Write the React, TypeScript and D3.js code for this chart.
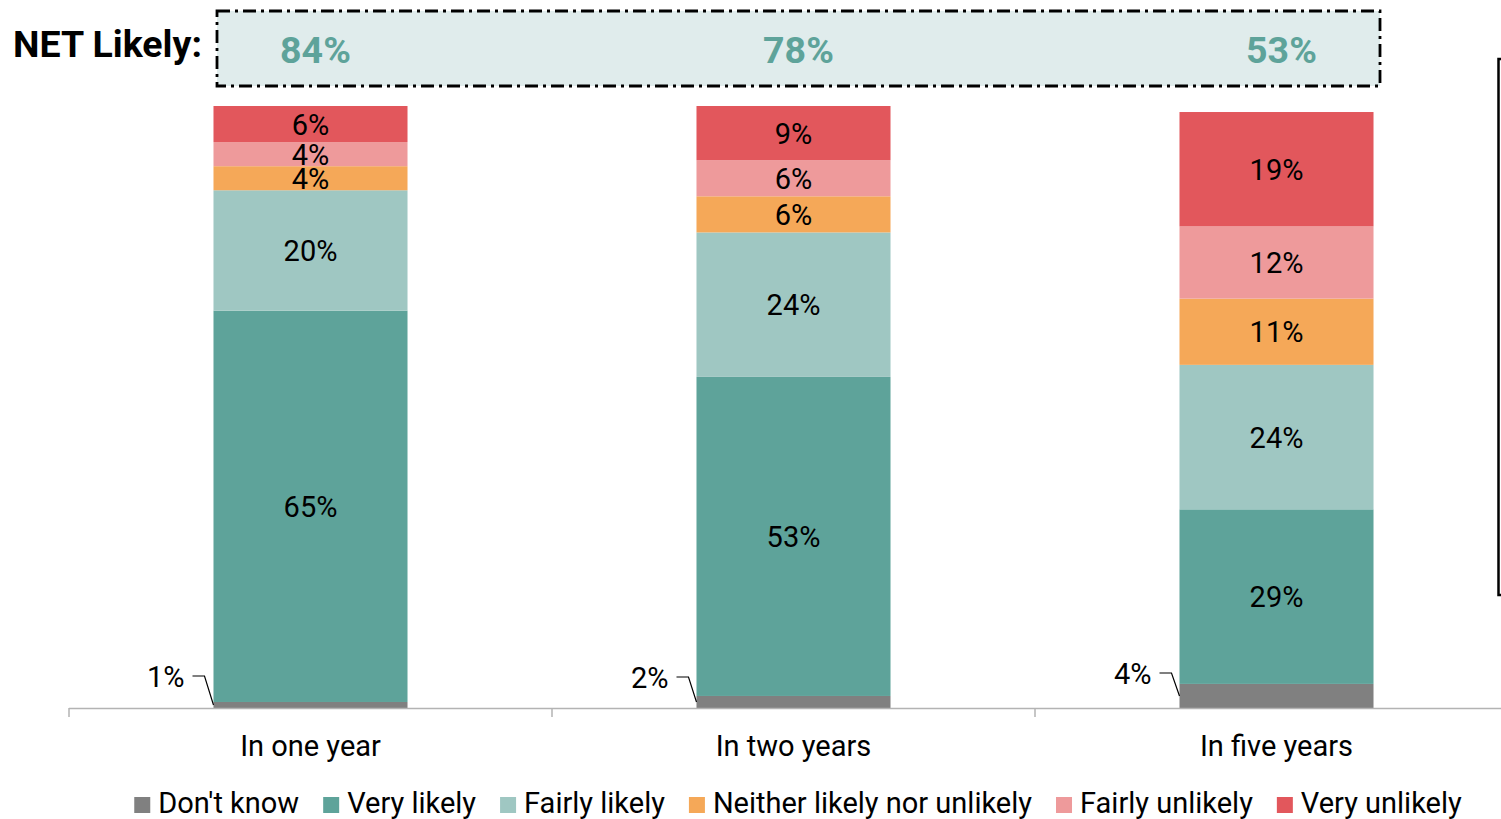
import React, { useEffect, useRef } from "react";
import * as d3 from "d3";

const categories = ["In one year", "In two years", "In five years"];
const seriesNames = ["Don't know", "Very likely", "Fairly likely", "Neither likely nor unlikely", "Fairly unlikely", "Very unlikely"];
const dontKnow = [1, 2, 4];
const veryLikely = [65, 53, 29];
const fairlyLikely = [20, 24, 24];
const neither = [4, 6, 11];
const fairlyUnlikely = [4, 6, 12];
const veryUnlikely = [6, 9, 19];
const netLikely = [84, 78, 53];
const colors = ["#808080", "#5ea39a", "#9fc7c2", "#f5a858", "#ee9a9b", "#e2575c"];

const W = 1501;
const H = 819;
const FONT = "Roboto, 'Noto Sans', sans-serif";

export default function App() {
  const ref = useRef<SVGSVGElement | null>(null);

  useEffect(() => {
    const svg = d3.select(ref.current);
    svg.selectAll("*").remove();

    const values = [dontKnow, veryLikely, fairlyLikely, neither, fairlyUnlikely, veryUnlikely];
    const rows = categories.map((c, i) => {
      const r: any = { cat: c };
      seriesNames.forEach((s, j) => (r[s] = values[j][i]));
      return r;
    });
    const stacked = d3.stack().keys(seriesNames)(rows);

    const x = d3.scaleBand().domain(categories).range([69, 69 + 483 * 3]).padding(0);
    const barW = x.bandwidth() * 0.4017;
    const barX = (c: string) => (x(c) as number) + (x.bandwidth() - barW) / 2;
    const cx = (c: string) => (x(c) as number) + x.bandwidth() / 2;
    const y = d3.scaleLinear().domain([0, 100]).range([708, 106]);

    // NET Likely box
    svg.append("rect")
      .attr("x", 217).attr("y", 11).attr("width", 1163).attr("height", 75)
      .attr("fill", "#e0ecec").attr("stroke", "#000").attr("stroke-width", 2.8)
      .attr("stroke-dasharray", "13,5,3,5");
    svg.append("text")
      .attr("x", 202).attr("y", 57).attr("text-anchor", "end")
      .attr("font-family", FONT).attr("font-weight", "bold").attr("font-size", 37.5)
      .attr("fill", "#000").text("NET Likely:");
    svg.selectAll(".net").data(categories).enter().append("text")
      .attr("x", (c) => cx(c) + 5).attr("y", 63).attr("text-anchor", "middle")
      .attr("font-family", FONT).attr("font-weight", "bold").attr("font-size", 37.5)
      .attr("fill", "#5ea39a").text((c, i) => `${netLikely[i]}%`);

    // bars
    stacked.forEach((layer, j) => {
      const g = svg.append("g");
      g.selectAll("rect").data(layer).enter().append("rect")
        .attr("x", (d: any) => barX(d.data.cat))
        .attr("y", (d: any) => y(d[1]))
        .attr("width", barW)
        .attr("height", (d: any) => y(d[0]) - y(d[1]))
        .attr("fill", colors[j]);
      if (j > 0) {
        g.selectAll("text").data(layer).enter().append("text")
          .attr("x", (d: any) => cx(d.data.cat))
          .attr("y", (d: any) => (y(d[0]) + y(d[1])) / 2)
          .attr("dy", "0.37em")
          .attr("text-anchor", "middle")
          .attr("font-family", FONT).attr("font-size", 29).attr("fill", "#000")
          .text((d: any) => `${d[1] - d[0]}%`);
      }
    });

    // Don't know labels with leader lines
    const leaderGap = [9, 8, 8];
    const labelY = [676, 677, 673];
    stacked[0].forEach((d: any, i: number) => {
      const left = barX(d.data.cat);
      const midY = (y(d[0]) + y(d[1])) / 2;
      const ly = labelY[i];
      const x1 = left - leaderGap[i];
      const x0 = x1 - 12;
      svg.append("path")
        .attr("d", `M${x0},${ly}L${x1},${ly}L${left},${midY}`)
        .attr("fill", "none").attr("stroke", "#000").attr("stroke-width", 1.2);
      svg.append("text")
        .attr("x", x0 - 8).attr("y", ly).attr("dy", "0.37em")
        .attr("text-anchor", "end")
        .attr("font-family", FONT).attr("font-size", 29).attr("fill", "#000")
        .text(`${d[1] - d[0]}%`);
    });

    // axis
    svg.append("line")
      .attr("x1", 69).attr("x2", W).attr("y1", 708.5).attr("y2", 708.5)
      .attr("stroke", "#b3b3b3").attr("stroke-width", 1.5);
    svg.selectAll(".tick").data(categories).enter().append("line")
      .attr("x1", (c) => x(c) as number).attr("x2", (c) => x(c) as number)
      .attr("y1", 708).attr("y2", 717)
      .attr("stroke", "#b3b3b3").attr("stroke-width", 1.5);
    svg.selectAll(".cat").data(categories).enter().append("text")
      .attr("x", (c) => cx(c)).attr("y", 756).attr("text-anchor", "middle")
      .attr("font-family", FONT).attr("font-size", 29).attr("fill", "#000")
      .text((c) => c);

    // legend
    const lg = svg.append("g");
    let lx = 0;
    const gap = 24;
    seriesNames.forEach((s, j) => {
      lg.append("rect").attr("x", lx).attr("y", 797).attr("width", 16).attr("height", 16).attr("fill", colors[j]);
      const t = lg.append("text").attr("x", lx + gap).attr("y", 813)
        .attr("font-family", FONT).attr("font-size", 29).attr("fill", "#000").text(s);
      const w = (t.node() as SVGTextElement).getComputedTextLength();
      lx += gap + w + gap;
    });
    const total = lx - gap;
    lg.attr("transform", `translate(${798 - total / 2},0)`);

    // partial frame at right edge
    svg.append("path")
      .attr("d", `M${W + 5},59L1498.5,59L1498.5,595L${W + 5},595`)
      .attr("fill", "none").attr("stroke", "#000").attr("stroke-width", 2.5);
  }, []);

  return (
    <svg ref={ref} width={W} height={H} style={{ position: "absolute", left: 0, top: 0, background: "#fff" }} />
  );
}
